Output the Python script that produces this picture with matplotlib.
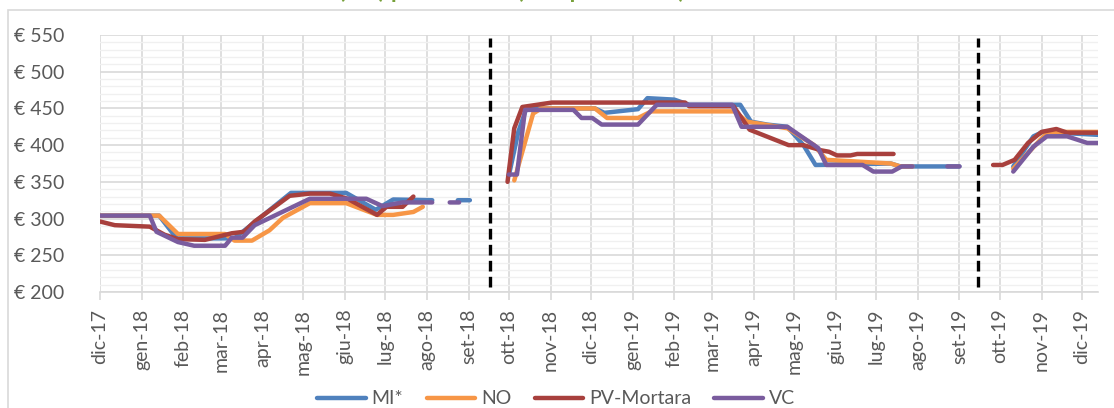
import matplotlib
matplotlib.use('Agg')
import matplotlib.pyplot as plt
import matplotlib.dates as mdates
from matplotlib.patches import Rectangle
import numpy as np
import pandas as pd

plt.rcParams['font.family'] = ['Lato', 'DejaVu Sans']

nan = np.nan

# MI* (blue)
mi_dates = ['2017-12-01', '2018-01-14', '2018-01-27', '2018-03-11', '2018-04-22', '2018-06-02',
            '2018-06-24', '2018-07-07', '2018-08-05', '2018-08-10',
            '2018-08-24', '2018-09-02', '2018-09-10',
            '2018-10-01', '2018-10-08', '2018-10-14', '2018-12-04', '2018-12-11', '2019-01-05',
            '2019-01-12', '2019-02-01', '2019-02-12', '2019-03-22', '2019-03-30', '2019-04-11',
            '2019-04-26', '2019-05-08', '2019-05-17', '2019-07-12', '2019-07-19', '2019-09-01',
            '2019-09-10',
            '2019-10-11', '2019-10-26', '2019-11-02', '2019-12-13']
mi_vals = [304, 304, 273, 273, 335, 335,
           312, 326, 325, nan,
           325, 325, nan,
           359, 418, 450, 450, 444, 449,
           464, 462, 455, 455, 432, 428,
           425, 400, 373, 375, 371, 371,
           nan,
           371, 412, 418, 414]

# NO (orange)
no_dates = ['2017-12-01', '2018-01-14', '2018-01-28', '2018-03-04', '2018-03-11', '2018-03-24',
            '2018-04-06', '2018-04-16', '2018-05-06', '2018-06-02', '2018-06-25', '2018-07-07',
            '2018-07-22', '2018-07-29', '2018-08-10',
            '2018-10-05', '2018-10-19', '2018-10-25', '2018-12-04', '2018-12-13', '2019-01-05',
            '2019-01-15', '2019-03-18', '2019-03-27', '2019-04-26', '2019-05-16', '2019-05-25',
            '2019-07-12', '2019-07-19', '2019-07-28', '2019-08-10',
            '2019-10-11', '2019-10-31', '2019-11-06', '2019-12-13']
no_vals = [304, 304, 279, 279, 270, 270,
           284, 301, 321, 321, 305, 305,
           309, 316, nan,
           352, 443, 450, 450, 437, 437,
           446, 446, 432, 423, 400, 380,
           375, 371, 371, nan,
           368, 407, 418, 418]

# PV-Mortara (dark red)
pv_dates = ['2017-12-01', '2017-12-12', '2018-01-07', '2018-01-18', '2018-01-28', '2018-02-17',
            '2018-03-09', '2018-03-18', '2018-03-26', '2018-04-21', '2018-05-06', '2018-05-21',
            '2018-06-03', '2018-06-25', '2018-07-02', '2018-07-14', '2018-07-22', '2018-08-10',
            '2018-09-30', '2018-10-05', '2018-10-11', '2018-11-02', '2019-02-09', '2019-02-12',
            '2019-03-17', '2019-03-29', '2019-04-27', '2019-05-08', '2019-05-21', '2019-05-27',
            '2019-06-02', '2019-06-12', '2019-06-17', '2019-07-14', '2019-08-10',
            '2019-09-26', '2019-10-03', '2019-10-12', '2019-10-22', '2019-11-01', '2019-11-12',
            '2019-11-20', '2019-12-13']
pv_vals = [296, 291, 289, 278, 272, 271,
           280, 282, 296, 331, 334, 334,
           327, 305, 316, 316, 330, nan,
           350, 423, 452, 458, 458, 453,
           453, 421, 400, 400, 393, 391,
           386, 386, 388, 388, nan,
           373, 373, 380, 403, 418, 422,
           417, 417]

# VC (purple)
vc_dates = ['2017-12-01', '2018-01-07', '2018-01-12', '2018-01-28', '2018-02-09', '2018-03-04',
            '2018-03-09', '2018-03-17', '2018-03-26', '2018-05-06', '2018-06-17', '2018-06-29',
            '2018-07-14', '2018-08-05', '2018-08-10',
            '2018-08-18', '2018-08-25', '2018-09-10',
            '2018-10-01', '2018-10-07', '2018-10-13', '2018-11-18', '2018-11-24', '2018-12-02',
            '2018-12-09', '2019-01-05', '2019-01-19', '2019-03-16', '2019-03-23', '2019-04-26',
            '2019-05-19', '2019-05-25', '2019-06-21', '2019-06-29', '2019-07-13', '2019-07-20',
            '2019-07-28', '2019-08-10',
            '2019-08-23', '2019-09-01', '2019-09-10',
            '2019-10-11', '2019-10-26', '2019-11-05', '2019-11-20', '2019-12-05', '2019-12-13']
vc_vals = [304, 304, 282, 268, 263, 263,
           274, 274, 291, 327, 327, 317,
           322, 322, nan,
           322, 322, nan,
           360, 360, 448, 448, 437, 437,
           428, 428, 455, 455, 425, 425,
           396, 373, 373, 364, 364, 371,
           371, nan,
           371, 371, nan,
           364, 398, 412, 412, 403, 403]

series = [('MI*', mi_dates, mi_vals, '#4F81BD'),
          ('NO', no_dates, no_vals, '#F79646'),
          ('PV-Mortara', pv_dates, pv_vals, '#A8403D'),
          ('VC', vc_dates, vc_vals, '#7A5C9E')]

season_breaks = ['2018-09-17', '2019-09-15']
months_it = ['gen', 'feb', 'mar', 'apr', 'mag', 'giu', 'lug', 'ago', 'set', 'ott', 'nov', 'dic']

fig = plt.figure(figsize=(11.14, 4.08), dpi=100)
ax = fig.add_axes([100 / 1114, 1 - 292 / 408, 998 / 1114, 257 / 408])

# chart area border
fig.patches.append(Rectangle((8 / 1114, -0.1), 1.2, 0.975 + 0.1, transform=fig.transFigure,
                             fill=False, edgecolor='#D9D9D9', linewidth=1.2))

# title, cut off at the top edge as in the source image
fig.text(474 / 1114, 1.0 + 1.5 / 408, 'Risone (€/t) prezzi medi (dati provinciali)',
         ha='center', va='baseline', color='#77A03A', fontsize=17, fontweight='bold')

for name, d, v, c in series:
    ax.plot(pd.to_datetime(d), v, color=c, lw=3.2, label=name,
            solid_capstyle='round', solid_joinstyle='round', zorder=3)

for b in season_breaks:
    ax.axvline(pd.Timestamp(b), ymin=0.02, ymax=0.99, color='black', lw=2.4,
               linestyle=(0, (3.2, 1.6)), zorder=4)

ax.set_ylim(200, 550)
ax.set_xlim(pd.Timestamp('2017-12-01'), pd.Timestamp('2019-12-13'))
ax.set_yticks(np.arange(200, 551, 50))
ax.set_yticks(np.arange(200, 551, 10), minor=True)
ax.set_yticklabels(['€ %d' % t for t in np.arange(200, 551, 50)])

ax.xaxis.set_major_locator(mdates.MonthLocator())
ax.xaxis.set_major_formatter(plt.FuncFormatter(
    lambda x, pos: '%s-%s' % (months_it[mdates.num2date(x).month - 1],
                              mdates.num2date(x).strftime('%y'))))

ax.grid(True, which='major', color='#D9D9D9', lw=1.2, zorder=0)
ax.grid(True, which='minor', axis='y', color='#F0F0F0', lw=1.0, zorder=0)
ax.set_axisbelow(True)

for s in ['top', 'right', 'left']:
    ax.spines[s].set_visible(False)
ax.spines['bottom'].set_color('#D9D9D9')
ax.spines['bottom'].set_linewidth(1.2)

ax.tick_params(axis='y', which='both', length=0, pad=26, labelsize=14, labelcolor='#595959')
ax.tick_params(axis='x', which='major', length=6, width=1.2, color='#D9D9D9', pad=6,
               labelsize=14, labelcolor='#595959', labelrotation=90)

fig.legend(loc='center', bbox_to_anchor=(556 / 1114, 1 - 399 / 408), ncol=4, frameon=False,
           fontsize=14, handlelength=2.5, handletextpad=0.3, columnspacing=1.2,
           labelcolor='#595959', borderaxespad=0, borderpad=0)

fig.savefig('out.png', dpi=100)
